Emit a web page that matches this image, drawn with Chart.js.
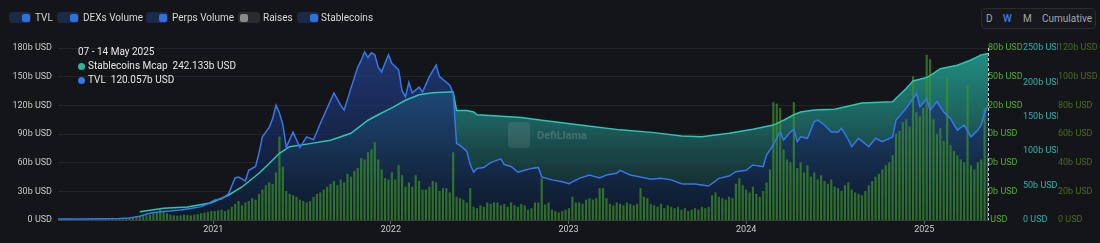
<!DOCTYPE html>
<html>
<head>
<meta charset="utf-8">
<script src="https://cdn.jsdelivr.net/npm/chart.js@4.4.1/dist/chart.umd.min.js"></script>
<style>
  html, body { margin: 0; padding: 0; background: #141519; width: 1100px; height: 243px; overflow: hidden; font-family: Roboto, sans-serif; }
  #wrap { position: relative; width: 1100px; height: 243px; }
  #chart { position: absolute; left: 0; top: 0; }
  .tog { position: absolute; top: 12px; width: 22px; height: 11px; border-radius: 3px; background: #1b2a47; }
  .tog i { position: absolute; right: 1.5px; top: 1.5px; width: 8px; height: 8px; border-radius: 2px; background: #2f6fe0; }
  .tog.off { background: #2a2b2f; }
  .tog.off i { left: 1.5px; right: auto; background: #8b8b8b; }
  .lbl { position: absolute; top: 11px; font-size: 10px; line-height: 13px; color: #d6d6d6; white-space: nowrap; }
  #period { position: absolute; left: 981px; top: 8px; width: 113px; height: 19px; border: 1px solid #2a2c31; border-radius: 4px; background: #17181c; }
  .per { position: absolute; top: 12px; font-size: 10px; line-height: 13px; color: #a3a6ab; }
  .per.on { color: #3b7cf0; font-weight: 500; }
  .tip { position: absolute; left: 78px; font-size: 10px; line-height: 12px; color: #e6e6e6; white-space: nowrap; }
  .dot { display: inline-block; width: 7px; height: 7px; border-radius: 50%; margin-right: 3px; vertical-align: -0.5px; }
</style>
</head>
<body>
<div id="wrap">
  <canvas id="chart" width="1100" height="243"></canvas>

  <div class="tog" style="left:9px"><i></i></div><div class="lbl" style="left:35px">TVL</div>
  <div class="tog" style="left:57px"><i></i></div><div class="lbl" style="left:83px">DEXs Volume</div>
  <div class="tog" style="left:146px"><i></i></div><div class="lbl" style="left:172px">Perps Volume</div>
  <div class="tog off" style="left:238px"><i></i></div><div class="lbl" style="left:263px">Raises</div>
  <div class="tog" style="left:297px"><i></i></div><div class="lbl" style="left:321px">Stablecoins</div>

  <div id="period"></div>
  <div class="per" style="left:986px">D</div>
  <div class="per on" style="left:1003px">W</div>
  <div class="per" style="left:1023px">M</div>
  <div class="per" style="left:1042px">Cumulative</div>

  <div class="tip" style="top:46px">07 - 14 May 2025</div>
  <div class="tip" style="top:60px"><span class="dot" style="background:#27b5a6"></span>Stablecoins Mcap&nbsp; 242.133b USD</div>
  <div class="tip" style="top:74px"><span class="dot" style="background:#3677ec"></span>TVL&nbsp; 120.057b USD</div>
</div>

<script>
// weeks are counted from the week of 17 Feb 2020
const startDay = Date.UTC(2020, 1, 17);
const lastWeek = 273;
const yearLabels = ['2021', '2022', '2023', '2024', '2025'];

// TVL, billions USD
const tvlWeeks = [0,6,12,18,21,24,27,30,33,36,39,42,44,46,48,50,52,53,55,56,
  58,59,60,62,63,64,65,66,67,69,71,73,75,77,79,81,83,84,86,88,
  89,90,91,92,93,94,95,97,98,100,101,102,103,104,106,107,109,111,112,114,
  115,116,117,118,120,121,122,123,125,127,130,131,133,135,137,139,141,142,145,148,
  150,153,156,159,161,164,165,168,171,174,177,180,183,184,187,191,194,197,199,202,
  204,207,208,210,212,213,215,216,217,218,220,222,223,225,227,229,230,232,233,235,
  238,240,242,245,246,249,251,252,253,255,256,258,260,262,264,266,268,270,271,272,273];
const tvlValues = [1.0,1.0,1.2,1.5,2.0,4.0,7.0,8.7,9.4,10.5,12,14,17,21,22,27,44,45,41,52,
  56,70,87,97,106,120,112,100,76,92,76,87,84,101,117,133,120,115,138,160,
  167,176,170,175,173,160,155,173,164,157,135,129,144,133,139,134,150,162,150,144,
  141,133,80,78,72,58,50,54,55,60,64,58,56,50,52,54,55,45,42,40,
  38,43.6,47,44,47,49,52,47,45,42.6,43.6,42,38,37.7,37.7,35.6,43.6,46,50.6,52,
  57.6,55.8,68,78.5,92.4,83.7,92,95,82,87,85.5,103,104.6,99.4,92,92,96,84,76.7,85.5,
  76.7,85.5,82,87,104.6,117,127,132.6,118.6,127,115,124,113,106,94,99.4,87,94,99.4,112,120.057];

// Stablecoins market cap, billions USD
const stableWeeks = [24,31,38,45,50,54,59,62,65,68,74,80,86,91,94,98,102,106,110,116,
  117,120,122,123,129,136,142,145,155,165,175,183,189,197,204,210,213,216,218,222,
  228,236,245,246,249,251,255,257,259,264,268,271,273];
const stableValues = [12,17,19,25,36,48,68,82,97,106.5,111,116,126,145,153,163,174,182,185,186.5,
  159,159,157,153,151,149,145,143,137,131,127,122,121,126,132,138,145,153,157,160,
  161,170,172,177,191,202,207,213,220,225,232.5,240,242.133];

// weekly volume, billions USD (one bar per week)
const volumeValues = [
  0.3,0.4,0.5,0.6,0.4,0.3,0.3,0.3,0.3,0.4,0.4,0.5,0.5,0.6,0.7,0.8,
  0.9,1.0,1.1,1.2,1.3,1.5,1.7,2.0,
  2.0,2.5,3.0,3.5,4.5,5.5,7.0,5.5,4.5,3.5,3.0,2.8,3.0,3.5,3.2,3.0,3.5,4.0,4.5,5.0,5.5,6.0,
  6,6.5,7,6,7, 9,11,13,10,12, 13,15,14, 18,21,24,26,25, 33,58,37,
  20,18,17,16, 14,13,12,13, 16,18,19,21, 23,25,27,24, 28,26,32, 30,34,36, 43,42,47,
  49,54,42,35,29,28,33,28,38,31,23,26,23,31,27,21,21,23,27,26,20,22,22,19,47,16,15,14,12,22,
  9,8,10,9,12,11,12,12,10,11,9,12,10,9,11,10,
  7,8,12,12,29,10.5,12,7,6,5,6,7,
  8,16,12,12,11,14,15,14,15,22,22,15,11,10,12,
  11,10,12,11,10,11,22,16,15,11,10,9,11,8,10,9,8,9,
  7,8,6,7,8,7,9,8,9,
  17,19,16,15,14,16,15,25,29,24,21,19,23,18,16,20,26,35,
  82,81,78,49,42,40,82,36,40,33,38,30,33,28,31,27,25,28,23,
  22,20,24,26,21,19,18,17,20,24,27,30,32,35,38,40,45,60,62,68,70,65,100,75,72,78,115,112,
  70,60,64,55,99,52,48,45,42,40,94,38,35,40,42,78,45];

const yearWeeks = yearLabels.map(y => (Date.UTC(+y, 0, 1) - startDay) / (7 * 86400000));
const usd = v => v === 0 ? '0 USD' : v + 'b USD';
const axisFont = { size: 9, family: 'Roboto' };

function vGrad(ctx, stops) {
  const area = ctx.chart.chartArea;
  if (!area) return null;
  const g = ctx.chart.ctx.createLinearGradient(0, area.top, 0, area.bottom);
  stops.forEach(s => g.addColorStop(s[0], s[1]));
  return g;
}

// dashed marker at the last week + faint watermark
const extras = {
  id: 'extras',
  afterDatasetsDraw(chart) {
    const c = chart.ctx, a = chart.chartArea;
    const x = Math.round(chart.scales.x.getPixelForValue(lastWeek)) + 0.5;
    c.save();
    c.fillStyle = 'rgba(210,210,210,0.13)';
    c.beginPath();
    c.roundRect(508, 122, 22, 26, 4);
    c.fill();
    c.fillStyle = 'rgba(210,210,210,0.22)';
    c.font = 'bold 11px Roboto';
    c.textBaseline = 'middle';
    c.fillText('DefiLlama', 537, 136);
    c.strokeStyle = 'rgba(235,235,235,0.85)';
    c.setLineDash([3, 2]);
    c.lineWidth = 1;
    c.beginPath();
    c.moveTo(x, a.top);
    c.lineTo(x, a.bottom);
    c.stroke();
    c.restore();
  }
};

new Chart(document.getElementById('chart'), {
  type: 'line',
  data: {
    datasets: [
      {
        label: 'TVL',
        data: tvlWeeks.map((w, i) => ({ x: w, y: tvlValues[i] })),
        yAxisID: 'yTvl',
        order: 0,
        borderColor: '#3677ec',
        borderWidth: 1.5,
        pointRadius: 0,
        tension: 0,
        fill: 'origin',
        backgroundColor: ctx => vGrad(ctx, [[0, 'rgba(36,68,145,0.72)'], [1, 'rgba(12,22,45,0.72)']])
      },
      {
        label: 'Stablecoins Mcap',
        data: stableWeeks.map((w, i) => ({ x: w, y: stableValues[i] })),
        yAxisID: 'yStable',
        order: 1,
        borderColor: '#2cc7b2',
        borderWidth: 1.5,
        pointRadius: 0,
        tension: 0,
        fill: 'origin',
        backgroundColor: ctx => vGrad(ctx, [[0, 'rgba(35,165,150,0.85)'], [0.45, 'rgba(30,105,102,0.85)'], [1, 'rgba(20,35,40,0.6)']])
      },
      {
        type: 'bar',
        label: 'DEXs Volume',
        data: volumeValues.map((v, i) => ({ x: i, y: v })),
        yAxisID: 'yVolume',
        order: 2,
        backgroundColor: 'rgba(62,150,38,0.7)',
        barThickness: 1.5
      }
    ]
  },
  options: {
    responsive: false,
    animation: false,
    devicePixelRatio: 1,
    events: [],
    layout: { padding: { top: 48, left: 0, right: 0, bottom: 0 } },
    plugins: {
      legend: { display: false },
      tooltip: { enabled: false },
      filler: { drawTime: 'beforeDatasetsDraw' }
    },
    scales: {
      x: {
        type: 'linear',
        min: 0,
        max: lastWeek,
        offset: false,
        grid: { display: true, drawOnChartArea: false, drawTicks: true, tickLength: 4, color: '#5a5d63', offset: false },
        border: { display: true, color: '#3a3d42' },
        ticks: { color: '#c8c8c8', font: axisFont, padding: 0, maxRotation: 0, autoSkip: false,
          callback: (v, i) => yearLabels[i] },
        afterBuildTicks: s => { s.ticks = yearWeeks.map(v => ({ value: v })); },
        afterFit: s => { s.height = 23; }
      },
      yTvl: {
        position: 'left',
        min: 0, max: 180,
        ticks: { stepSize: 30, color: '#c8c8c8', font: axisFont, padding: 6, callback: usd },
        grid: { color: 'rgba(255,255,255,0.07)', drawTicks: false },
        border: { display: false },
        afterFit: s => { s.width = 58; }
      },
      yDexAxis: {
        position: 'right',
        z: 1,
        min: 0, max: 180,
        ticks: { stepSize: 30, color: '#4fae2d', font: axisFont, padding: -5, callback: usd },
        grid: { display: false, drawTicks: false },
        border: { display: false },
        afterFit: s => { s.width = 35; }
      },
      yStable: {
        position: 'right',
        min: 0, max: 250,
        ticks: { stepSize: 50, color: '#27b3b0', font: axisFont, padding: 0, callback: usd },
        grid: { display: false, drawTicks: false },
        border: { display: false },
        afterFit: s => { s.width = 35; }
      },
      yVolume: {
        position: 'right',
        min: 0, max: 120,
        ticks: { stepSize: 20, color: '#4a6a22', font: axisFont, padding: 0, callback: usd },
        grid: { display: false, drawTicks: false },
        border: { display: false },
        afterFit: s => { s.width = 42; }
      }
    }
  },
  plugins: [extras]
});
</script>
</body>
</html>
